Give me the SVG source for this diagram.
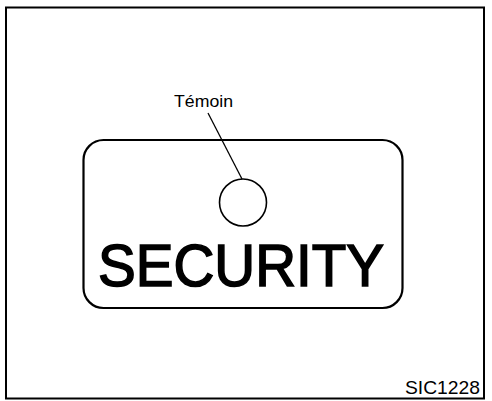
<svg xmlns="http://www.w3.org/2000/svg" width="492" height="401" viewBox="0 0 492 401">
<style>
.t{font-family:"Liberation Sans",Arial,sans-serif;fill:#000}
.s{fill:none;stroke:#000}
</style>
<rect x="0" y="0" width="492" height="401" fill="#fff"/>
<rect class="s" x="6" y="7.5" width="478" height="391" stroke-width="2"/>
<g id="panel">
<rect class="s" x="83.5" y="140" width="319" height="168" rx="20" ry="20" stroke-width="2.2"/>
<text class="t" x="98" y="285.5" font-size="59" textLength="286" lengthAdjust="spacingAndGlyphs" stroke="#000" stroke-width="1.6">SECURITY</text>
</g>
<g id="lamp">
<circle class="s" cx="243" cy="202.5" r="23.5" stroke-width="1.6"/>
</g>
<g id="label">
<text class="t" x="174" y="107" font-size="16.5" textLength="59" lengthAdjust="spacingAndGlyphs">Témoin</text>
</g>
<g id="connectors">
<line class="s" x1="208" y1="113" x2="242" y2="179" stroke-width="1.3"/>
</g>
<text class="t" x="405" y="394" font-size="18.5" textLength="75" lengthAdjust="spacingAndGlyphs">SIC1228</text>
</svg>
